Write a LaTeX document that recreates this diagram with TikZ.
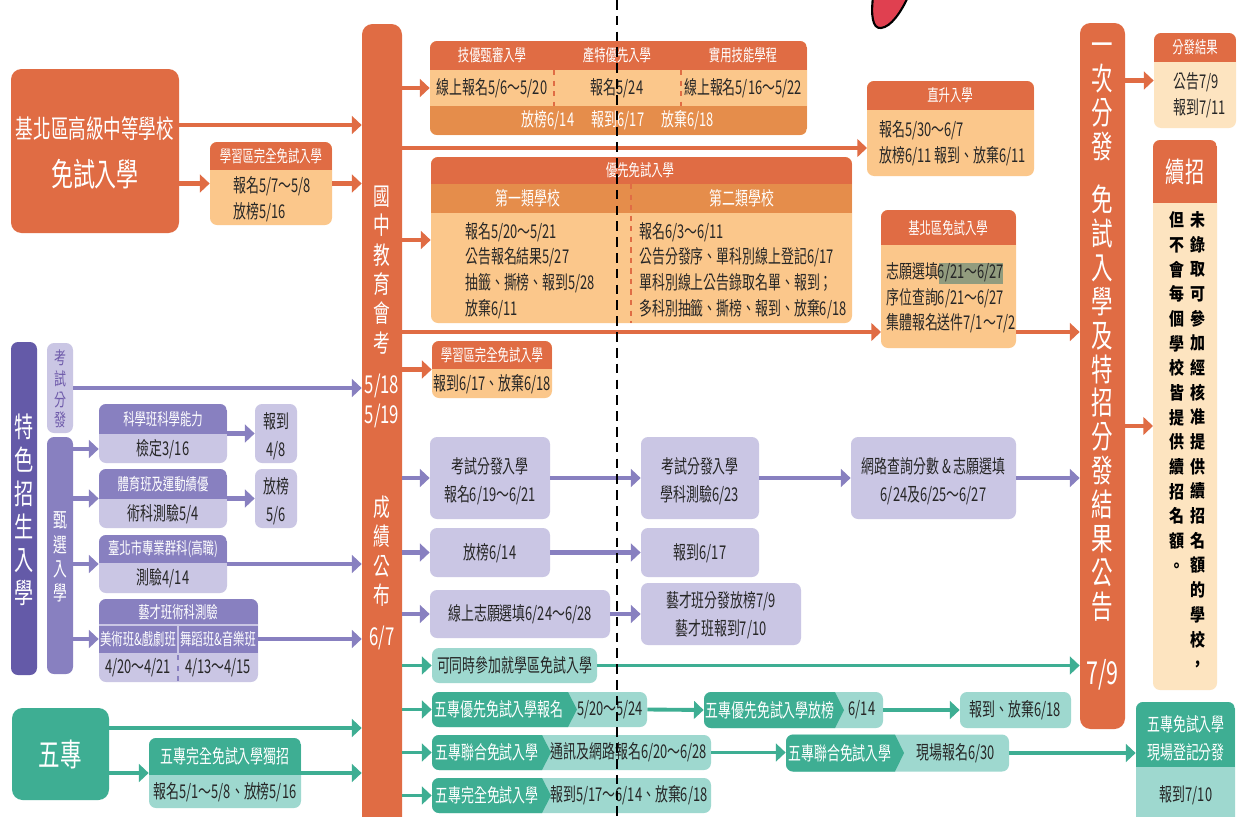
\documentclass[tikz,border=0pt]{standalone}
\usepackage{fontspec}
\setmainfont{Noto Sans CJK TC}
\newfontfamily\cond[FakeStretch=0.68]{Noto Sans CJK TC}
\newfontfamily\vcond[FakeStretch=0.85]{Noto Sans CJK TC}
\usetikzlibrary{arrows.meta}

\definecolor{OrangeDark}{RGB}{224,108,68}
\definecolor{OrangeMid}{RGB}{229,141,75}
\definecolor{OrangeLight}{RGB}{251,199,139}
\definecolor{OrangePale}{RGB}{253,228,192}
\definecolor{PurpleDark}{RGB}{100,90,168}
\definecolor{PurpleMid}{RGB}{136,128,192}
\definecolor{PurpleLight}{RGB}{202,198,228}
\definecolor{PurpleText}{RGB}{110,90,170}
\definecolor{TealDark}{RGB}{62,174,147}
\definecolor{TealLight}{RGB}{158,216,207}
\definecolor{PenRed}{RGB}{224,64,80}
\definecolor{MarkGreen}{RGB}{146,156,126}

\newcommand{\fhead}{\cond\fontsize{9.5}{12}\selectfont}
\newcommand{\fbody}{\cond\fontsize{10.8}{14.6}\selectfont}
\newcommand{\fbodyx}{\cond\fontsize{10.8}{16}\selectfont}
\newcommand{\fbig}{\cond\fontsize{14.7}{18}\selectfont}
\newcommand{\fhuge}{\cond\fontsize{18.4}{22}\selectfont}
\newcommand{\fcol}{\cond\fontsize{14}{16.7}\selectfont}
\newcommand{\ffinal}{\cond\fontsize{18}{19.3}\selectfont}
\newcommand{\ffeat}{\cond\fontsize{16}{18.9}\selectfont}
\newcommand{\fexamv}{\cond\fontsize{10}{11.8}\selectfont}
\newcommand{\fselect}{\cond\fontsize{11.5}{13.8}\selectfont}
\newcommand{\fnote}{\vcond\bfseries\fontsize{10}{14.05}\selectfont}
\newcommand{\fwz}{\cond\fontsize{18}{20}\selectfont}

\tikzstyle{card}=[rectangle,
                  rounded corners=4pt,
                  inner sep=0pt,
                  draw=none
                 ]
\tikzstyle{txt}=[inner sep=0pt, align=center, text=black!85, font=\fbody]
\tikzstyle{wtxt}=[txt, text=white, font=\fhead]
\tikzstyle{orange flow}=[draw=OrangeDark, line width=2.4pt, -{Triangle[length=5.5pt,width=10pt]}]
\tikzstyle{purple flow}=[draw=PurpleMid, line width=2.6pt, -{Triangle[length=5.5pt,width=10pt]}]
\tikzstyle{teal flow}=[draw=TealDark, line width=2.2pt, -{Triangle[length=5.5pt,width=10pt]}]
\tikzset{
  wh/.style 2 args={minimum width=#1*0.02cm, minimum height=#2*0.02cm},
  headband/.style 2 args={path picture={\fill[#1, sharp corners] (path picture bounding box.north west) rectangle ([yshift=-#2*0.02cm]path picture bounding box.north east);}},
  chevron/.style={path picture={\fill[TealDark, sharp corners] (path picture bounding box.north west) -- ([xshift=#1*0.02cm]path picture bounding box.north west) -- ([xshift=#1*0.02cm+9*0.02cm]path picture bounding box.west) -- ([xshift=#1*0.02cm]path picture bounding box.south west) -- (path picture bounding box.south west) -- cycle;}}
}

\begin{document}
\begin{tikzpicture}[x=0.02cm, y=-0.02cm, every node/.style={inner sep=0pt}]

\useasboundingbox[fill=white] (0,0) rectangle (1242,816);

\node at (95,151) (big_a) [card, fill=OrangeDark, wh={168}{164}, rounded corners=6pt] {};
\node at (95,129) (big_a_t1) [wtxt, font=\fbig] {基北區高級中等學校};
\node at (95,174) (big_a_t2) [wtxt, font=\fhuge] {免試入學};

\node at (271,183.5) (learn_a) [card, fill=OrangeLight, wh={122}{83}, headband={OrangeDark}{28}] {};
\node at (271,156) (learn_a_h) [wtxt] {學習區完全免試入學};
\node at (233,199) (learn_a_b) [txt, anchor=west, align=left] {報名5/7～5/8\\放榜5/16};

\node at (382,427) (exam_col) [card, fill=OrangeDark, wh={40}{806}, rounded corners=6pt] {};
\node at (382,270) (exam_col_t1) [wtxt, font=\fcol] {國\\中\\教\\育\\會\\考};
\node at (382,401) (exam_col_t2) [wtxt, font=\fcol] {5/18\\5/19};
\node at (382,551) (exam_col_t3) [wtxt, font=\fcol] {成\\績\\公\\布};
\node at (382,638) (exam_col_t4) [wtxt, font=\fcol] {6/7};

\node at (618.5,88) (skill_band) [card, fill=OrangeLight, wh={377}{94},
  path picture={\fill[OrangeDark, sharp corners] (path picture bounding box.north west) rectangle ([yshift=-29*0.02cm]path picture bounding box.north east);
                \fill[OrangeMid, sharp corners] (path picture bounding box.south west) rectangle ([yshift=29*0.02cm]path picture bounding box.south east);}] {};
\draw[OrangeDark, dashed, line width=0.6pt] (554,70) -- (554,106);
\draw[OrangeDark, dashed, line width=0.6pt] (681,70) -- (681,106);
\node at (492,55.5) (skill_h1) [wtxt] {技優甄審入學};
\node at (617,55.5) (skill_h2) [wtxt] {產特優先入學};
\node at (743,55.5) (skill_h3) [wtxt] {實用技能學程};
\node at (492,88) (skill_b1) [txt] {線上報名5/6～5/20};
\node at (617,88) (skill_b2) [txt] {報名5/24};
\node at (743,88) (skill_b3) [txt] {線上報名5/16～5/22};
\node at (618,120.5) (skill_f) [wtxt, font=\fbody] {放榜6/14\hspace{10pt}報到6/17\hspace{10pt}放棄6/18};

\node at (950.5,128.5) (direct) [card, fill=OrangeLight, wh={167}{95}, headband={OrangeDark}{29}] {};
\node at (950,95.5) (direct_h) [wtxt] {直升入學};
\node at (879,143) (direct_b) [txt, anchor=west, align=left] {報名5/30～6/7\\放榜6/11 報到、放棄6/11};

\node at (641.5,240) (priority) [card, fill=OrangeLight, wh={421}{166},
  path picture={\fill[OrangeDark, sharp corners] (path picture bounding box.north west) rectangle ([yshift=-27*0.02cm]path picture bounding box.north east);
                \fill[OrangeMid, sharp corners] ([yshift=-27*0.02cm]path picture bounding box.north west) rectangle ([yshift=-56*0.02cm]path picture bounding box.north east);}] {};
\draw[OrangeDark, dashed, line width=0.6pt] (631,184) -- (631,323);
\node at (640,170.5) (priority_h) [wtxt] {優先免試入學};
\node at (528,198.5) (priority_h1) [wtxt, font=\fbody] {第一類學校};
\node at (742,198.5) (priority_h2) [wtxt, font=\fbody] {第二類學校};
\node at (465,270.5) (priority_b1) [txt, anchor=west, align=left] {報名5/20～5/21\\公告報名結果5/27\\抽籤、撕榜、報到5/28\\放棄6/11};
\node at (639,270.5) (priority_b2) [txt, anchor=west, align=left] {報名6/3～6/11\\公告分發序、單科別線上登記6/17\\單科別線上公告錄取名單、報到；\\多科別抽籤、撕榜、報到、放棄6/18};

\node at (948.5,279) (keelung) [card, fill=OrangeLight, wh={135}{138}, headband={OrangeDark}{35}] {};
\node at (948,228) (keelung_h) [wtxt] {基北區免試入學};
\node at (971,273.5) (keelung_mark) [fill=MarkGreen, wh={64}{21}] {};
\node at (886,298) (keelung_b) [txt, anchor=west, align=left] {志願選填6/21～6/27\\序位查詢6/21～6/27\\集體報名送件7/1～7/2};

\node at (492,369.5) (learn_b) [card, fill=OrangeLight, wh={120}{57}, headband={OrangeDark}{28}] {};
\node at (492,355) (learn_b_h) [wtxt] {學習區完全免試入學};
\node at (492,384) (learn_b_b) [txt] {報到6/17、放棄6/18};

\node at (1102.5,376) (final_col) [card, fill=OrangeDark, wh={45}{706}, rounded corners=6pt] {};
\node at (1102.5,102) (final_t1) [wtxt, font=\ffinal] {一\\次\\分\\發};
\node at (1102.5,403) (final_t2) [wtxt, font=\ffinal] {免\\試\\入\\學\\及\\特\\招\\分\\發\\結\\果\\公\\告};
\node at (1102.5,675) (final_t3) [wtxt, font=\ffinal] {7/9};

\node at (1195,80.5) (result) [card, fill=OrangePale, wh={82}{95}, headband={OrangeDark}{29}] {};
\node at (1195,47.5) (result_h) [wtxt] {分發結果};
\node at (1173,95) (result_b) [txt, anchor=west, align=left] {公告7/9\\報到7/11};

\node at (1185,415) (cont) [card, fill=OrangePale, wh={64}{550}, headband={OrangeDark}{63}] {};
\node at (1185,172) (cont_h) [wtxt, font=\ffeat] {續招};
\node at (1198,441) (cont_b1) [txt, font=\fnote, text=black] {未\\錄\\取\\可\\參\\加\\經\\核\\准\\提\\供\\續\\招\\名\\額\\的\\學\\校\\，};
\node at (1177,392) (cont_b2) [txt, font=\fnote, text=black] {但\\不\\會\\每\\個\\學\\校\\皆\\提\\供\\續\\招\\名\\額\\。};

\coordinate (big_a_hi) at (179,125);
\coordinate (direct_in) at (867,148);
\coordinate (keelung_in) at (881,332);
\coordinate (cont_in) at (1153,426);

\draw[orange flow] (big_a_hi) -- (big_a_hi -| exam_col.west);
\draw[orange flow] (big_a.east |- learn_a) -- (learn_a.west);
\draw[orange flow] (learn_a.east) -- (learn_a.east -| exam_col.west);
\draw[orange flow] (exam_col.east |- skill_band) -- (skill_band.west);
\draw[orange flow] (exam_col.east |- direct_in) -- (direct_in);
\draw[orange flow] (exam_col.east |- priority) -- (priority.west);
\draw[orange flow] (exam_col.east |- keelung_in) -- (keelung_in);
\draw[orange flow] (exam_col.east |- learn_b) -- (learn_b.west);
\draw[orange flow] (keelung_in -| keelung.east) -- (keelung_in -| final_col.west);
\draw[orange flow] (final_col.east |- result) -- (result.west);
\draw[orange flow] (final_col.east |- cont_in) -- (cont_in);

\node at (24,508.5) (feature_col) [card, fill=PurpleDark, wh={26}{333}] {};
\node at (24,510) (feature_t) [wtxt, font=\ffeat] {特\\色\\招\\生\\入\\學};
\node at (60,388) (examdist) [card, fill=PurpleLight, wh={26}{90}] {};
\node at (60,389) (examdist_t) [txt, text=PurpleText, font=\fexamv] {考\\試\\分\\發};
\node at (60,555.5) (select_col) [card, fill=PurpleMid, wh={26}{237}] {};
\node at (60,557) (select_t) [wtxt, font=\fselect] {甄\\選\\入\\學};

\node at (163,433.5) (sci) [card, fill=PurpleLight, wh={128}{59}, headband={PurpleMid}{30}] {};
\node at (163,419) (sci_h) [wtxt] {科學班科學能力};
\node at (163,449) (sci_b) [txt] {檢定3/16};
\node at (276,433.5) (sci_side) [card, fill=PurpleLight, wh={42}{59}] {};
\node at (276,436) (sci_side_t) [txt, font=\fbodyx] {報到\\4/8};

\node at (163,498.5) (sport) [card, fill=PurpleLight, wh={128}{59}, headband={PurpleMid}{30}] {};
\node at (163,484) (sport_h) [wtxt] {體育班及運動績優};
\node at (163,514) (sport_b) [txt] {術科測驗5/4};
\node at (276,498.5) (sport_side) [card, fill=PurpleLight, wh={42}{59}] {};
\node at (276,501) (sport_side_t) [txt, font=\fbodyx] {放榜\\5/6};

\node at (163,564) (voc) [card, fill=PurpleLight, wh={128}{58}, headband={PurpleMid}{28}] {};
\node at (163,549) (voc_h) [wtxt] {臺北市專業群科(高職)};
\node at (163,578) (voc_b) [txt] {測驗4/14};

\node at (178.5,640.5) (art) [card, fill=PurpleLight, wh={159}{83}, headband={PurpleMid}{54}] {};
\draw[PurpleLight, line width=0.8pt] (99,625) -- (258,625);
\draw[PurpleLight, line width=0.8pt] (178,625) -- (178,653);
\draw[PurpleMid, dashed, line width=0.6pt] (178,655) -- (178,682);
\node at (178,612) (art_h) [wtxt] {藝才班術科測驗};
\node at (138,639) (art_l) [wtxt] {美術班\&戲劇班};
\node at (218,639) (art_r) [wtxt] {舞蹈班\&音樂班};
\node at (138,668) (art_lb) [txt] {4/20～4/21};
\node at (218,668) (art_rb) [txt] {4/13～4/15};

\draw[purple flow] (examdist.east) -- (examdist.east -| exam_col.west);
\draw[purple flow] (select_col.east |- sci_b) -- (sci.west |- sci_b);
\draw[purple flow] (select_col.east |- sport) -- (sport.west);
\draw[purple flow] (select_col.east |- voc) -- (voc.west);
\draw[purple flow] (select_col.east |- art_l) -- (art.west |- art_l);
\draw[purple flow] (sci.east) -- (sci_side.west);
\draw[purple flow] (sport.east) -- (sport_side.west);
\draw[purple flow] (voc.east) -- (voc.east -| exam_col.west);
\draw[purple flow] (art.east |- art_r) -- (art_r -| exam_col.west);

\node at (490,478) (exam_reg) [card, fill=PurpleLight, wh={120}{82}] {};
\node at (490,481) (exam_reg_t) [txt, font=\fbodyx] {考試分發入學\\報名6/19～6/21};
\node at (700,478) (exam_test) [card, fill=PurpleLight, wh={118}{82}] {};
\node at (700,481) (exam_test_t) [txt, font=\fbodyx] {考試分發入學\\學科測驗6/23};
\node at (933.5,478) (web_query) [card, fill=PurpleLight, wh={165}{82}] {};
\node at (933.5,481) (web_query_t) [txt, font=\fbodyx] {網路查詢分數 \& 志願選填\\6/24及6/25～6/27};
\node at (490,552.5) (rank_list) [card, fill=PurpleLight, wh={120}{49}] {};
\node at (490,553) (rank_list_t) [txt] {放榜6/14};
\node at (700,552.5) (report) [card, fill=PurpleLight, wh={118}{49}] {};
\node at (700,553) (report_t) [txt] {報到6/17};
\node at (520,614) (art_choice) [card, fill=PurpleLight, wh={180}{48}] {};
\node at (520,614) (art_choice_t) [txt] {線上志願選填6/24～6/28};
\node at (721,614) (art_result) [card, fill=PurpleLight, wh={160}{62}] {};
\node at (721,615) (art_result_t) [txt, font=\fbodyx] {藝才班分發放榜7/9\\藝才班報到7/10};

\draw[purple flow] (exam_col.east |- exam_reg) -- (exam_reg.west);
\draw[purple flow] (exam_reg.east) -- (exam_test.west);
\draw[purple flow] (exam_test.east) -- (web_query.west);
\draw[purple flow] (web_query.east) -- (web_query.east -| final_col.west);
\draw[purple flow] (exam_col.east |- rank_list) -- (rank_list.west);
\draw[purple flow] (rank_list.east) -- (report.west);
\draw[purple flow] (exam_col.east |- art_choice) -- (art_choice.west);
\draw[purple flow] (art_choice.east) -- (art_result.west);

\node at (60.5,754) (wuzhuan) [card, fill=TealDark, wh={97}{92}, rounded corners=6pt] {};
\node at (60.5,754) (wuzhuan_t) [wtxt, font=\fwz] {五專};
\node at (225,773) (wz_solo) [card, fill=TealLight, wh={152}{70}, headband={TealDark}{37}] {};
\node at (225,756.5) (wz_solo_h) [wtxt, font=\fbody] {五專完全免試入學獨招};
\node at (225,792) (wz_solo_b) [txt] {報名5/1～5/8、放榜5/16};

\coordinate (wuzhuan_hi) at (109,728);
\draw[teal flow] (wuzhuan_hi) -- (wuzhuan_hi -| exam_col.west);
\draw[teal flow] (wuzhuan.east |- wz_solo) -- (wz_solo.west);
\draw[teal flow] (wz_solo.east) -- (wz_solo.east -| exam_col.west);

\node at (514.5,665.5) (joint) [card, fill=TealLight, wh={165}{35}] {};
\node at (514.5,665.5) (joint_t) [txt] {可同時參加就學區免試入學};

\node at (539.5,709.5) (wz_pri) [card, fill=TealLight, wh={215}{35}, chevron=136] {};
\node at (499,709.5) (wz_pri_t1) [wtxt, font=\fbody] {五專優先免試入學報名};
\node at (610,709.5) (wz_pri_t2) [txt] {5/20～5/24};

\node at (793.5,710) (wz_pri_res) [card, fill=TealLight, wh={179}{36}, chevron=131] {};
\node at (770,710) (wz_pri_res_t1) [wtxt, font=\fbody] {五專優先免試入學放榜};
\node at (862,710) (wz_pri_res_t2) [txt] {6/14};

\node at (1015.5,710) (wz_pri_fin) [card, fill=TealLight, wh={111}{36}] {};
\node at (1015.5,710) (wz_pri_fin_t) [txt] {報到、放棄6/18};

\node at (571.5,752.5) (wz_joint) [card, fill=TealLight, wh={279}{35}, chevron=110] {};
\node at (487,752.5) (wz_joint_t1) [wtxt, font=\fbody] {五專聯合免試入學};
\node at (629,752.5) (wz_joint_t2) [txt] {通訊及網路報名6/20～6/28};

\node at (897.5,753) (wz_joint_site) [card, fill=TealLight, wh={223}{37}, chevron=109] {};
\node at (840,753) (wz_joint_site_t1) [wtxt, font=\fbody] {五專聯合免試入學};
\node at (956,753) (wz_joint_site_t2) [txt] {現場報名6/30};

\node at (571.5,795.5) (wz_full) [card, fill=TealLight, wh={279}{35}, chevron=110] {};
\node at (487,795.5) (wz_full_t1) [wtxt, font=\fbody] {五專完全免試入學};
\node at (629,795.5) (wz_full_t2) [txt] {報到5/17～6/14、放棄6/18};

\node at (1185.5,766) (wz_admit) [card, fill=TealLight, wh={99}{128}, headband={TealDark}{65}] {};
\node at (1186,738.5) (wz_admit_h) [wtxt, font=\fbodyx] {五專免試入學\\現場登記分發};
\node at (1186,795) (wz_admit_b) [txt] {報到7/10};

\draw[teal flow] (exam_col.east |- joint) -- (joint.west);
\draw[teal flow] (joint.east) -- (joint.east -| final_col.west);
\draw[teal flow] (exam_col.east |- wz_pri) -- (wz_pri.west);
\draw[teal flow] (wz_pri.east) -- (wz_pri_res.west);
\draw[teal flow] (wz_pri_res.east) -- (wz_pri_fin.west);
\draw[teal flow] (exam_col.east |- wz_joint) -- (wz_joint.west);
\draw[teal flow] (wz_joint.east) -- (wz_joint.east -| wz_joint_site.west);
\draw[teal flow] (wz_joint_site.east) -- (wz_joint_site.east -| wz_admit.west);
\draw[teal flow] (exam_col.east |- wz_full) -- (wz_full.west);

\filldraw[fill=PenRed, draw=black, line width=1.2pt] (873,-3) .. controls (871,14) and (872,29) .. (881,28) .. controls (891,27) and (901,12) .. (908,-3);

\coordinate (cut_top) at (617,0);
\coordinate (cut_bot) at (617,816);
\draw[black, line width=0.6pt, dash pattern=on 5.5pt off 3.5pt] (cut_top) -- (cut_bot);

\end{tikzpicture}
\end{document}
